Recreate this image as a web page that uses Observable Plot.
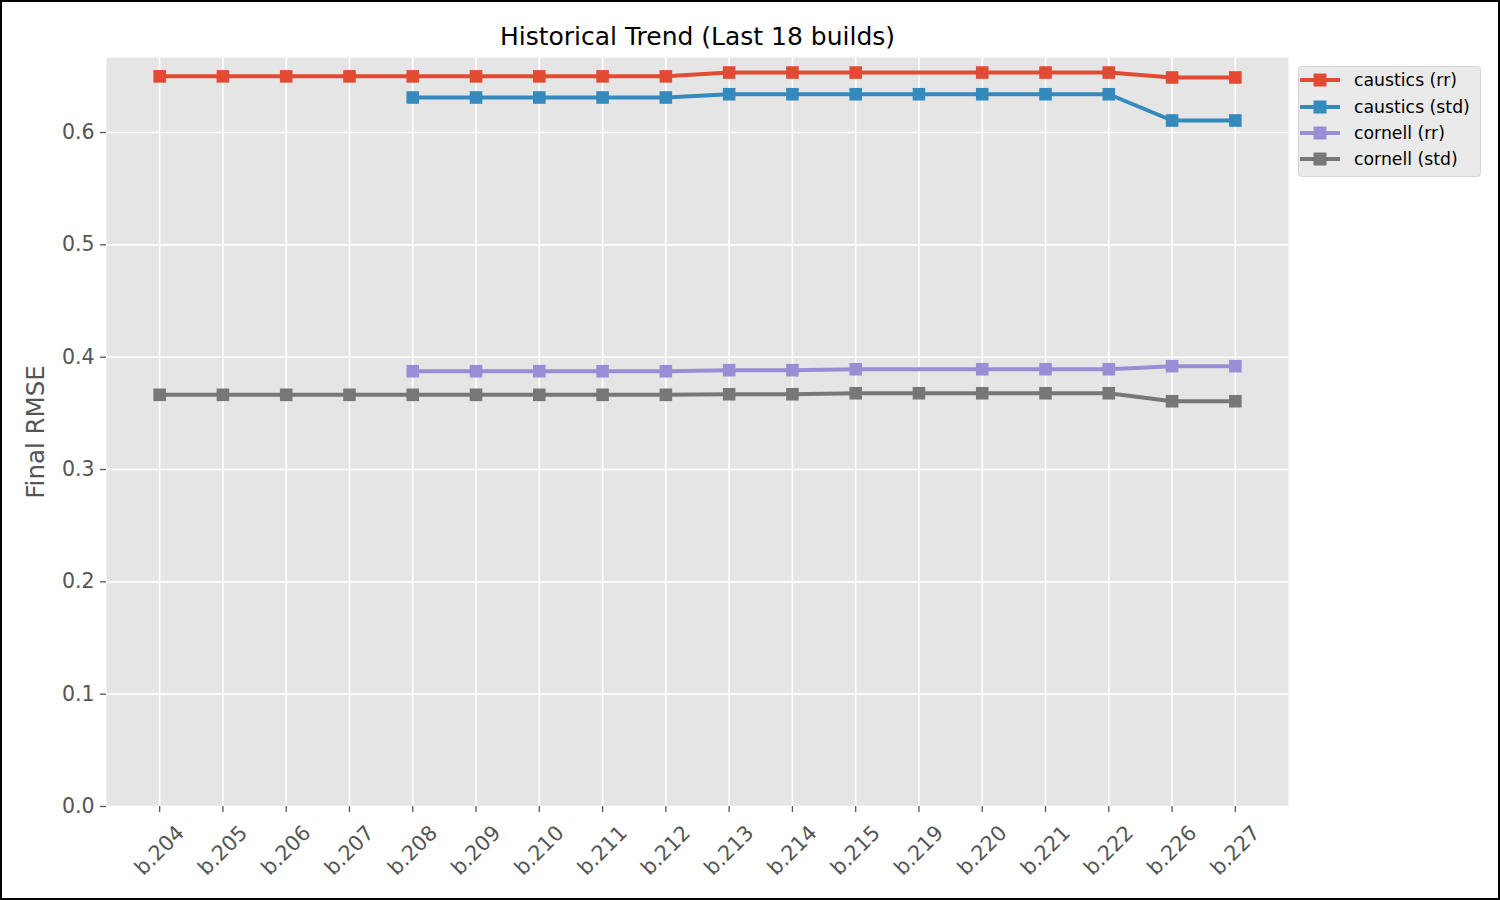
<!DOCTYPE html>
<html>
<head>
<meta charset="utf-8">
<script src="https://cdn.jsdelivr.net/npm/d3@7"></script>
<script src="https://cdn.jsdelivr.net/npm/@observablehq/plot@0.6"></script>
<style>
  html, body { margin: 0; padding: 0; background: #fff; }
  #fig { position: relative; width: 1500px; height: 900px; overflow: hidden; font-family: "DejaVu Sans", sans-serif; }
  #fig svg { position: absolute; left: 0; top: 0; }
  #border { position: absolute; left: 0; top: 0; width: 1500px; height: 900px; box-sizing: border-box; border: 2px solid #000; pointer-events: none; }
  #legend { position: absolute; left: 1298px; top: 66px; width: 183px; height: 111px; box-sizing: border-box;
            background: #EAEAEA; border: 1px solid #D6D6D6; border-radius: 4px; }
  .entry { position: absolute; left: 0; height: 26px; width: 183px; }
  .entry svg { position: absolute; left: 4px; top: 0; }
  .entry span { position: absolute; left: 55px; top: 0; line-height: 26px; font-size: 17.3px; color: #000; white-space: nowrap; }
</style>
</head>
<body>
<div id="fig"></div>
<script>
// ---- data ----
const builds = ["b.204","b.205","b.206","b.207","b.208","b.209","b.210","b.211","b.212",
                "b.213","b.214","b.215","b.219","b.220","b.221","b.222","b.226","b.227"];
const seriesNames = ["caustics (rr)", "caustics (std)", "cornell (rr)", "cornell (std)"];
const seriesColors = ["#E24A33", "#348ABD", "#988ED5", "#777777"];
const causticsRR  = [0.650,0.650,0.650,0.650,0.650,0.650,0.650,0.650,0.650,
                     0.6534,0.6534,0.6534,null,0.6534,0.6534,0.6534,0.649,0.649];
const causticsStd = [null,null,null,null,0.6312,0.6312,0.6312,0.6312,0.6312,
                     0.6341,0.6341,0.6341,0.6341,0.6341,0.6341,0.6341,0.6107,0.6107];
const cornellRR   = [null,null,null,null,0.3875,0.3875,0.3875,0.3875,0.3875,
                     0.3884,0.3884,0.3893,null,0.3893,0.3893,0.3893,0.3920,0.3920];
const cornellStd  = [0.3665,0.3665,0.3665,0.3665,0.3665,0.3665,0.3665,0.3665,0.3665,
                     0.3670,0.3670,0.3679,0.3679,0.3679,0.3679,0.3679,0.3608,0.3608];
const yTicks = [0.0, 0.1, 0.2, 0.3, 0.4, 0.5, 0.6];
const yTop = 0.6668;
const titleText = "Historical Trend (Last 18 builds)";
const yLabel = "Final RMSE";

const seriesValues = [causticsRR, causticsStd, cornellRR, cornellStd];
const rows = seriesValues.map((vals, i) =>
  builds.map((b, j) => ({build: b, value: vals[j], series: seriesNames[i]}))
        .filter(d => d.value != null));

const marks = [
  Plot.frame({fill: "#E5E5E5", stroke: null}),
  Plot.gridX({stroke: "#fff", strokeOpacity: 1, strokeWidth: 1.6}),
  Plot.gridY(yTicks, {stroke: "#fff", strokeOpacity: 1, strokeWidth: 1.6}),
  Plot.axisY({ticks: yTicks, tickSize: 6, tickPadding: 6, tickFormat: d3.format(".1f"),
              fontSize: 20.5, fill: "#555", stroke: "#555", strokeWidth: 1.3, label: null}),
  Plot.axisX({tickSize: 6, tickFormat: () => "", stroke: "#555", strokeWidth: 1.3, label: null}),
  Plot.text(builds, {x: d => d, frameAnchor: "bottom", dy: 44, rotate: -45,
                     textAnchor: "middle", lineAnchor: "middle", fontSize: 20.8, fill: "#555"}),
  Plot.text([yLabel], {frameAnchor: "left", dx: -70, rotate: -90, textAnchor: "middle",
                       lineAnchor: "middle", fontSize: 24.5, fill: "#555"}),
  Plot.text([titleText], {frameAnchor: "top", dy: -21, textAnchor: "middle",
                          lineAnchor: "middle", fontSize: 25, fill: "#000"})
];
rows.forEach((data, i) => {
  marks.push(Plot.line(data, {x: "build", y: "value", stroke: seriesColors[i], strokeWidth: 4,
                              strokeLinejoin: "round", strokeLinecap: "square"}));
  marks.push(Plot.dot(data, {x: "build", y: "value", symbol: "square", r: 7.1,
                             fill: seriesColors[i], stroke: null}));
});

const chart = Plot.plot({
  width: 1500, height: 900,
  marginLeft: 106, marginRight: 212, marginTop: 57, marginBottom: 94,
  style: {fontFamily: "DejaVu Sans", background: "transparent", overflow: "visible"},
  x: {type: "point", domain: builds, padding: 0.84, round: false, label: null},
  y: {domain: [0, yTop], label: null},
  marks
});
const fig = document.getElementById("fig");
fig.appendChild(chart);

// legend
const legend = document.createElement("div");
legend.id = "legend";
const rowCenters = [13, 39.5, 65.5, 92];
seriesNames.forEach((name, i) => {
  const e = document.createElement("div");
  e.className = "entry";
  e.style.top = (rowCenters[i] - 13) + "px";
  e.innerHTML = `<svg width="44" height="26"><line x1="1" y1="13" x2="41" y2="13" stroke="${seriesColors[i]}" stroke-width="4"/>` +
                `<rect x="14.5" y="6.5" width="13" height="13" fill="${seriesColors[i]}"/></svg><span>${name}</span>`;
  legend.appendChild(e);
});
fig.appendChild(legend);
const border = document.createElement("div");
border.id = "border";
fig.appendChild(border);
</script>
</body>
</html>
